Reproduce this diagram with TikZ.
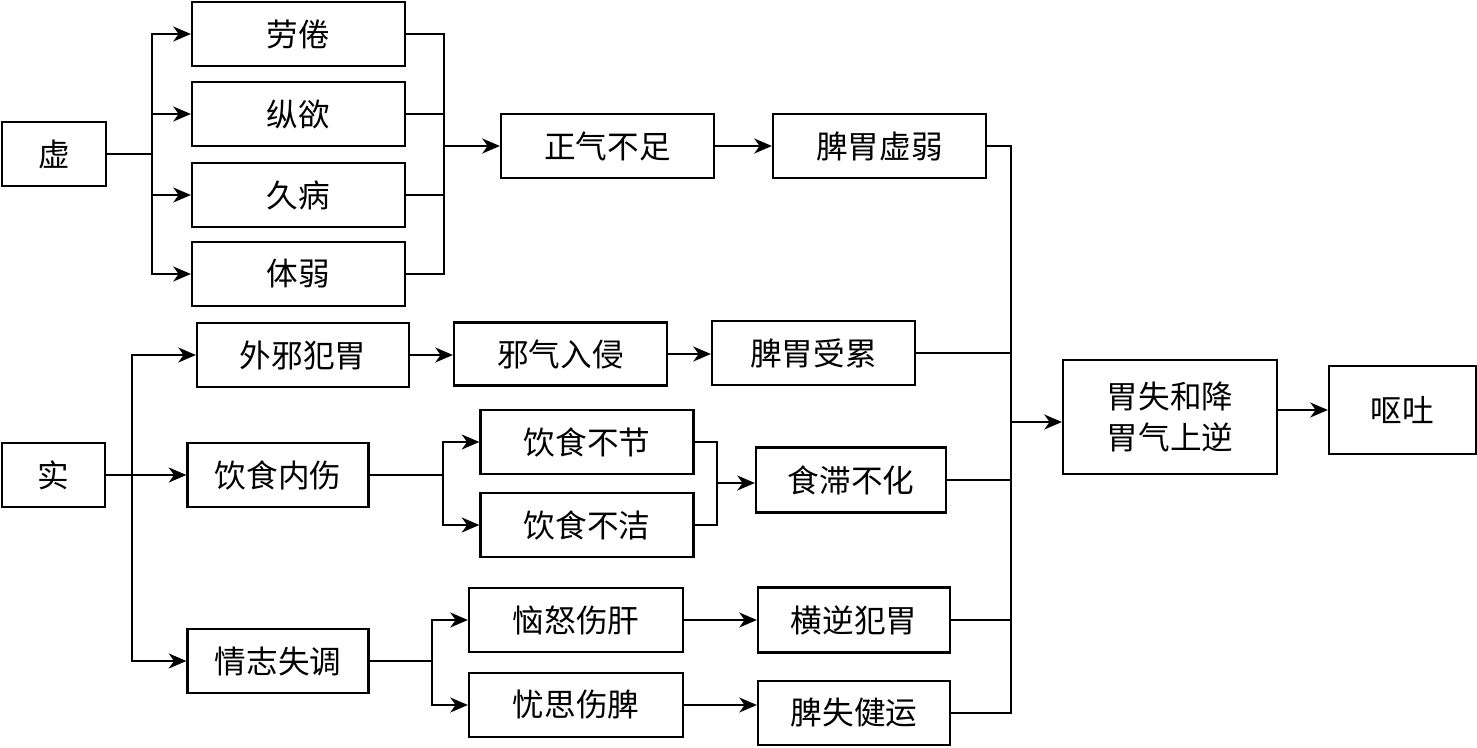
\documentclass[tikz,border=0pt]{standalone}
\usepackage{fontspec}
\newfontfamily\cjk{Noto Sans CJK SC}
\usetikzlibrary{arrows.meta,calc}

\begin{document}
\begin{tikzpicture}[x=0.02cm,y=-0.02cm,line width=1.3pt,line cap=rect,
  blk/.style={draw,line width=1.3pt,inner sep=0pt,minimum height=1.28cm,align=center,font=\cjk\fontsize{18}{23}\selectfont},
  arr/.style={-{Stealth[length=10pt,width=8.5pt,inset=3pt]}}]
  \useasboundingbox (0,0) rectangle (1477,747);
  % 虚
  \node[blk,minimum width=2.08cm] (xu) at (54,154) {虚};
  \node[blk,minimum width=4.26cm] (lj) at (298.5,34) {劳倦};
  \node[blk,minimum width=4.26cm] (zy) at (298.5,114) {纵欲};
  \node[blk,minimum width=4.26cm] (jb) at (298.5,195) {久病};
  \node[blk,minimum width=4.26cm] (tr) at (298.5,274) {体弱};
  \node[blk,minimum width=4.26cm] (zq) at (607.5,146) {正气不足};
  \node[blk,minimum width=4.26cm] (pw) at (879.5,146) {脾胃虚弱};
  % 实
  \node[blk,minimum width=2.06cm] (shi) at (53.5,475) {实};
  \node[blk,minimum width=4.24cm] (wx) at (303,355) {外邪犯胃};
  \node[blk,minimum width=4.26cm,minimum height=1.26cm] (xq) at (560.5,354) {邪气入侵};
  \node[blk,minimum width=4.06cm] (pl) at (813.5,353) {脾胃受累};
  \node[blk,minimum width=3.62cm] (ys) at (278,475) {饮食内伤};
  \node[blk,minimum width=4.26cm] (yj) at (587,442) {饮食不节};
  \node[blk,minimum width=4.26cm] (yq) at (587,525) {饮食不洁};
  \node[blk,minimum width=3.8cm,minimum height=1.3cm] (sz) at (851,480) {食滞不化};
  \node[blk,minimum width=3.62cm] (qz) at (278,661) {情志失调};
  \node[blk,minimum width=4.28cm] (nn) at (576,620) {恼怒伤肝};
  \node[blk,minimum width=4.28cm] (ys2) at (576,705) {忧思伤脾};
  \node[blk,minimum width=3.84cm,minimum height=1.3cm] (hn) at (854,620) {横逆犯胃};
  \node[blk,minimum width=3.84cm] (ps) at (854,713) {脾失健运};
  % 结果
  \node[blk,minimum width=4.28cm,minimum height=2.28cm] (wq) at (1170,417) {胃失和降\\胃气上逆};
  \node[blk,minimum width=2.94cm,minimum height=1.76cm] (ot) at (1402.5,410) {呕吐};
  % 分叉点
  \coordinate (j1) at (152,154);
  \coordinate (j2) at (444,146);
  \coordinate (j3) at (132,475);
  \coordinate (j4) at (443,475);
  \coordinate (j6) at (717,483);
  \coordinate (j7) at (432,661);
  \coordinate (j5) at (1011,422);
  % 虚 的连线
  \draw (xu) -- (j1);
  \draw (j1 |- lj) -- (j1 |- tr);
  \foreach \n in {lj,zy,jb,tr} \draw[arr] (j1 |- \n) -- (\n);
  \foreach \n in {lj,zy,jb,tr} \draw (\n) -- (j2 |- \n);
  \draw (j2 |- lj) -- (j2 |- tr);
  \draw[arr] (j2) -- (zq);
  \draw[arr] (zq) -- (pw);
  % 实 的连线
  \draw (shi) -- (j3);
  \draw (j3 |- wx) -- (j3 |- qz);
  \draw[arr] (j3 |- wx) -- (wx);
  \draw[arr] (j3) -- (ys);
  \draw[arr] (j3 |- qz) -- (qz);
  \draw[arr] (wx) -- (wx -| xq.west);
  \draw[arr] (xq) -- (xq -| pl.west);
  \draw (ys) -- (j4);
  \draw (j4 |- yj) -- (j4 |- yq);
  \draw[arr] (j4 |- yj) -- (yj);
  \draw[arr] (j4 |- yq) -- (yq);
  \draw (yj) -- (j6 |- yj);
  \draw (yq) -- (j6 |- yq);
  \draw (j6 |- yj) -- (j6 |- yq);
  \draw[arr] (j6) -- (j6 -| sz.west);
  \draw (qz) -- (j7);
  \draw (j7 |- nn) -- (j7 |- ys2);
  \draw[arr] (j7 |- nn) -- (nn);
  \draw[arr] (j7 |- ys2) -- (ys2);
  \draw[arr] (nn) -- (nn -| hn.west);
  \draw[arr] (ys2) -- (ys2 -| ps.west);
  % 汇合
  \foreach \n in {pw,pl,sz,hn,ps} \draw (\n) -- (j5 |- \n);
  \draw (j5 |- pw) -- (j5 |- ps);
  \draw[arr] (j5) -- (j5 -| wq.west);
  \draw[arr] (wq.east |- ot) -- (ot);
\end{tikzpicture}
\end{document}
